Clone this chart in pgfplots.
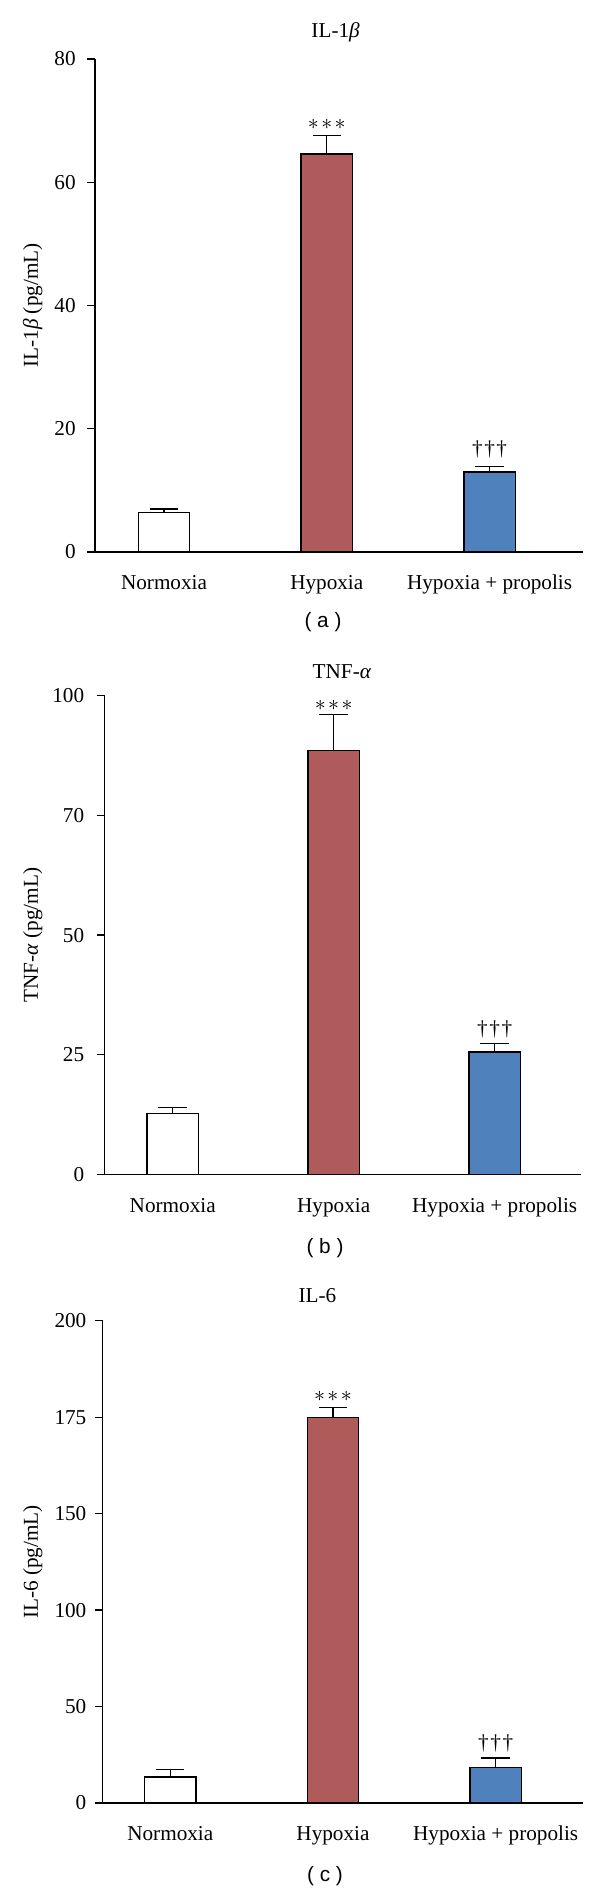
\documentclass[border=0pt]{standalone}
\usepackage{pgfplots}
\pgfplotsset{compat=1.18}
\usepackage{fontspec}
\setmainfont{Liberation Serif}
\newfontfamily\capfont{Liberation Sans}
\definecolor{hred}{RGB}{176,91,91}
\definecolor{hblue}{RGB}{79,129,189}
\newcommand{\fs}{\fontsize{10.6}{12.5}\selectfont}
\pgfplotsset{
  panel/.style={
    scale only axis, anchor=south west,
    axis lines=left, axis line style={-, line width=0.65pt},
    ybar, bar width=25.7pt, bar shift=0pt,
    xtick={0,1,2}, xticklabels={Normoxia,Hypoxia,Hypoxia + propolis},
    xtick style={draw=none},
    xticklabel style={anchor=base, yshift=-15pt, font=\fs},
    ytick style={line width=0.65pt, black},
    tick align=outside, major tick length=4pt,
    yticklabel style={anchor=east, inner sep=0pt, font=\fs},
    every axis plot/.append style={draw=black, line width=0.65pt,
      error bars/y dir=plus, error bars/y explicit,
      error bars/error mark=|,
      error bars/error bar style={line width=0.65pt, black},
      error bars/error mark options={line width=0.65pt, black, mark size=7.1pt}},
    ymin=0, clip=false,
  }
}
\newcommand{\stars}{${\ast}\mkern2mu{\ast}\mkern2mu{\ast}$}
\newcommand{\dags}{†\kern0.8pt†\kern0.8pt†}
\begin{document}
\begin{tikzpicture}
\path[use as bounding box] (0,0) rectangle (300pt,946pt);
% ---------- (a) IL-1beta
\begin{axis}[panel, at={(47.5pt,670pt)}, width=244pt, height=246.5pt,
  xmin=-0.424, xmax=2.574, ymax=80,
  ytick={0,20,40,60,80}, yticklabels={0,20,40,60,80},
  yticklabel style={xshift=-5.5pt}]
\addplot[fill=white] coordinates {(0,6.4) +- (0,0.6)};
\addplot[fill=hred] coordinates {(1,64.6) +- (0,3.0)};
\addplot[fill=hblue] coordinates {(2,13.0) +- (0,0.9)};
\node[font=\fs] at (axis cs:1,69.45) {\stars};
\node[font=\fs] at (axis cs:2,16.7) {\dags};
\end{axis}
% ---------- (b) TNF-alpha
\begin{axis}[panel, at={(52.3pt,358.75pt)}, width=238.1pt, height=239.4pt,
  xmin=-0.423, xmax=2.535, ymax=100,
  ytick={0,25,50,75,100}, yticklabels={0,25,50,70,100},
  yticklabel style={xshift=-6pt}]
\addplot[fill=white] coordinates {(0,12.8) +- (0,1.2)};
\addplot[fill=hred] coordinates {(1,88.5) +- (0,7.6)};
\addplot[fill=hblue] coordinates {(2,25.6) +- (0,1.7)};
\node[font=\fs] at (axis cs:1,97.9) {\stars};
\node[font=\fs] at (axis cs:2,30.4) {\dags};
\end{axis}
% ---------- (c) IL-6 (tick labels evenly spaced: 0,50,100,150,175,200)
\begin{axis}[panel, at={(51.35pt,44.5pt)}, width=240.15pt, height=241.15pt,
  xmin=-0.4155, xmax=2.537, ymax=200,
  y coord trafo/.code={\pgfmathparse{#1>150 ? 2*#1-150 : #1}},
  y coord inv trafo/.code={\pgfmathparse{#1>150 ? (#1+150)/2 : #1}},
  ytick={0,50,100,150,175,200}, yticklabels={0,50,100,150,175,200},
  yticklabel style={xshift=-4pt}]
\addplot[fill=white] coordinates {(0,13.5) +- (0,3.9)};
\addplot[fill=hred, error bars/y dir=none] coordinates {(1,175)};
\addplot[fill=hblue] coordinates {(2,18.4) +- (0,4.9)};
% error bar of the Hypoxia bar (mean 175, upper end 177.5)
\addplot[sharp plot, black, line width=0.65pt, mark=-, mark size=7.1pt,
  mark indices={2}, mark options={line width=0.65pt, black}]
  coordinates {(1,175) (1,177.5)};
\node[font=\fs] at (axis cs:1,180.3) {\stars};
\node[font=\fs] at (axis cs:2,31.1) {\dags};
\end{axis}
% ---------- titles, axis labels, captions
\node[font=\fs] at (167.8pt,929.6pt) {IL-1\textit{β}};
\node[font=\fs] at (171pt,610.4pt) {TNF-\textit{α}};
\node[font=\fs] at (158.75pt,298pt) {IL-6};
\node[font=\fs, rotate=90] at (16.35pt,793.25pt) {IL-1\textit{β} (pg/mL)};
\node[font=\fs, rotate=90] at (16.35pt,478.5pt) {TNF-\textit{α} (pg/mL)};
\node[font=\fs, rotate=90] at (16.35pt,165pt) {IL-6 (pg/mL)};
\node[font=\capfont\fontsize{10.4}{12}\selectfont] at (161.5pt,635.15pt) {( a )};
\node[font=\capfont\fontsize{10.4}{12}\selectfont] at (162.5pt,322pt) {( b )};
\node[font=\capfont\fontsize{10.4}{12}\selectfont] at (162.5pt,8pt) {( c )};
\end{tikzpicture}
\end{document}
